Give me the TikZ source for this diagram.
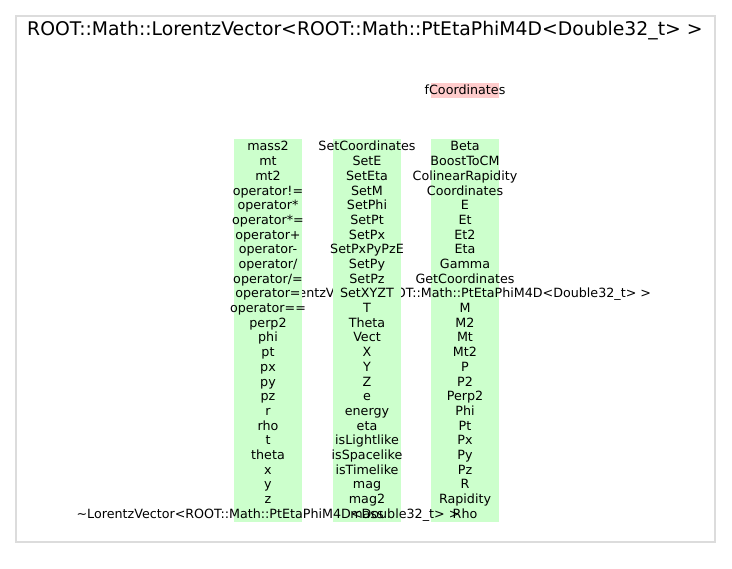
\documentclass[tikz,border=0pt]{standalone}
\usepackage{fontspec}
\setmainfont{DejaVu Sans}
\definecolor{methodfill}{HTML}{CCFFCC}
\definecolor{memberfill}{HTML}{FFCCCC}
\definecolor{framegray}{HTML}{DCDCDC}
\begin{document}
\begin{tikzpicture}[x=1bp,y=-1bp,
  entry/.style={anchor=base, inner sep=0pt, font=\fontsize{12.7bp}{14bp}\selectfont},
  heading/.style={anchor=base west, inner sep=0pt, font=\fontsize{18.8bp}{20bp}\selectfont},
  methodcol/.style={fill=methodfill},
  membercell/.style={fill=memberfill}]
\useasboundingbox (0,0) rectangle (732,569);
% class frame and title
\draw[framegray, line width=1.5bp] (16,16) rectangle (715,542);
\node[heading] (title) at (27,36) {ROOT::Math::LorentzVector<ROOT::Math::PtEtaPhiM4D<Double32\_t> >};
% data member
\path[membercell] (431,83) rectangle (499,98);
\node[entry] (fcoord) at (465,95) {fCoordinates};
% third method column
\path[methodcol] (431,139.5) rectangle (499,521.5);
\foreach \m [count=\i from 0] in {Beta, BoostToCM, ColinearRapidity, Coordinates, E, Et, Et2, Eta, Gamma, GetCoordinates, LorentzVector<ROOT::Math::PtEtaPhiM4D<Double32\_t> >, M, M2, Mt, Mt2, P, P2, Perp2, Phi, Pt, Px, Py, Pz, R, Rapidity, Rho}
  \node[entry] (c3r\i) at (465,151+\i*14.69) {\m};
% second method column
\path[methodcol] (333,139.5) rectangle (401,521.5);
\foreach \m [count=\i from 0] in {SetCoordinates, SetE, SetEta, SetM, SetPhi, SetPt, SetPx, SetPxPyPzE, SetPy, SetPz, SetXYZT, T, Theta, Vect, X, Y, Z, e, energy, eta, isLightlike, isSpacelike, isTimelike, mag, mag2, mass}
  \node[entry] (c2r\i) at (367,151+\i*14.69) {\m};
% first method column
\path[methodcol] (234,139.5) rectangle (302,521.5);
\foreach \m [count=\i from 0] in {mass2, mt, mt2, operator!=, operator*, operator*=, operator+, operator-, operator/, operator/=, operator=, operator==, perp2, phi, pt, px, py, pz, r, rho, t, theta, x, y, z, \textasciitilde LorentzVector<ROOT::Math::PtEtaPhiM4D<Double32\_t> >}
  \node[entry] (c1r\i) at (268,151+\i*14.69) {\m};
\end{tikzpicture}
\end{document}
